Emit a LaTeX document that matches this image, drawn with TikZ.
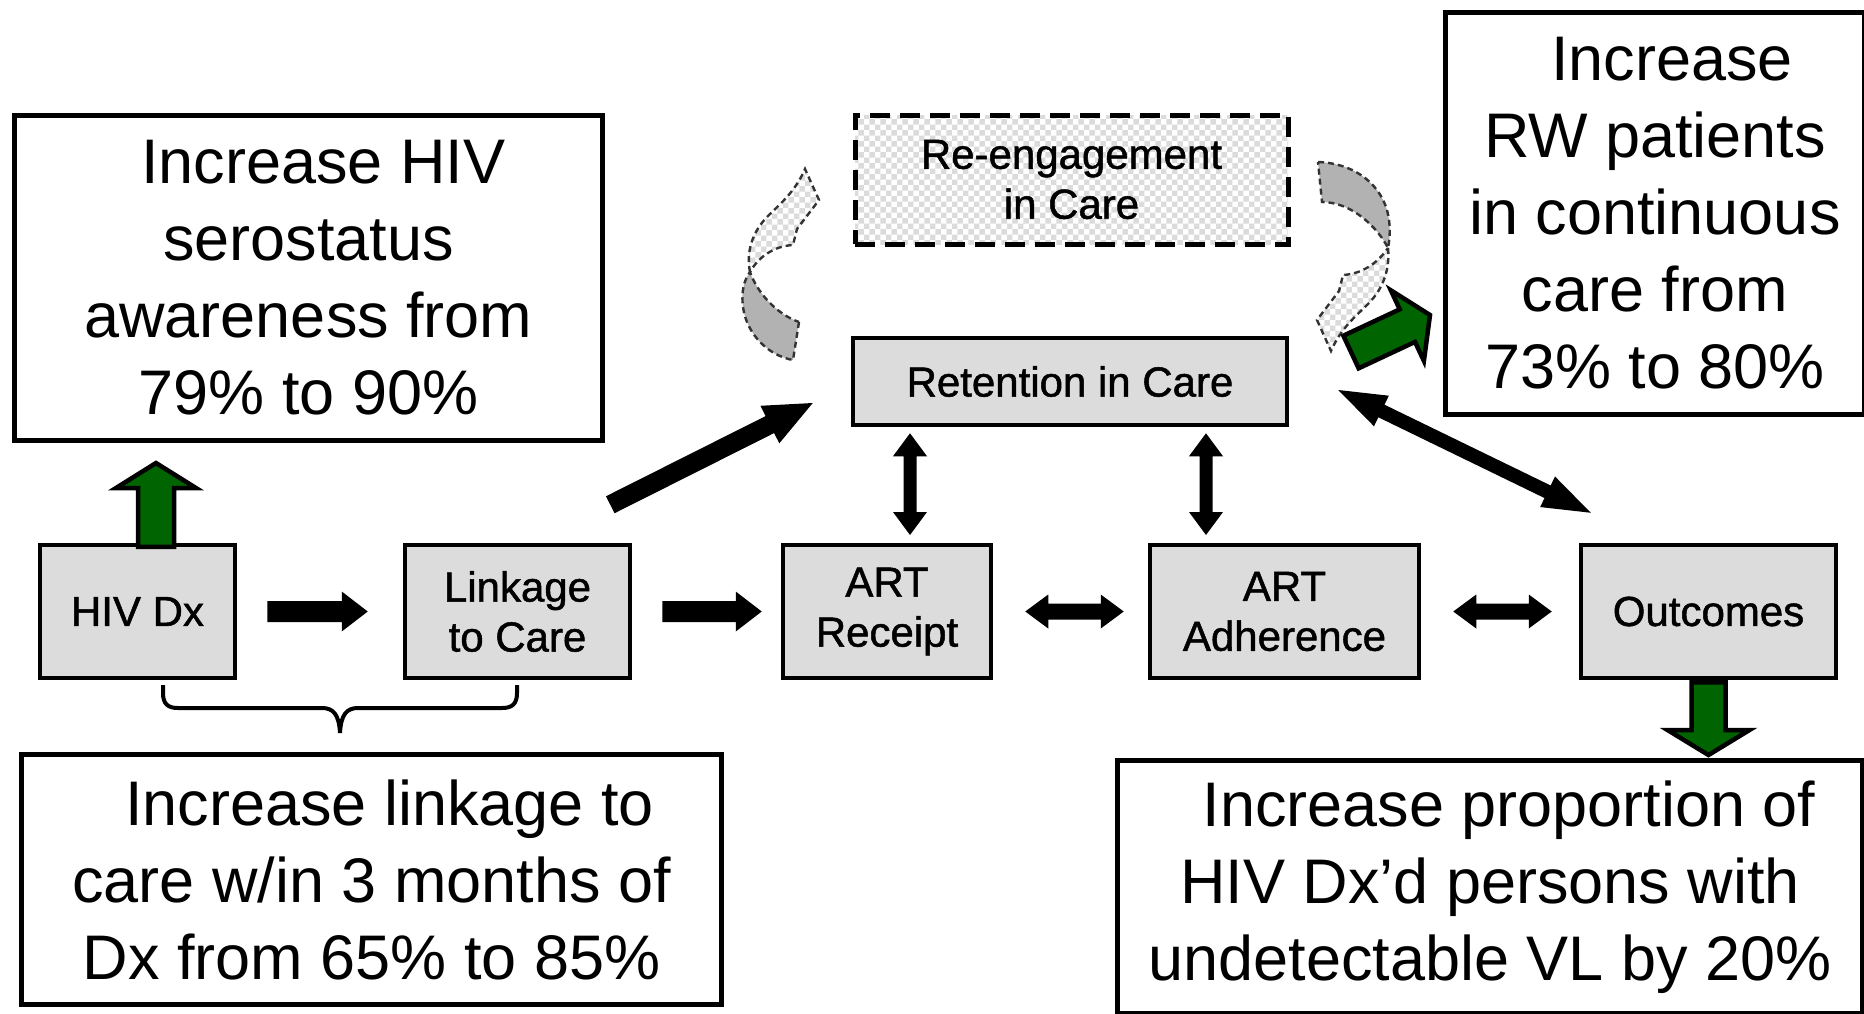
\documentclass[tikz,border=0pt]{standalone}
\usepackage{fontspec}
\setmainfont{Liberation Sans}
\newfontfamily\smallfont[FakeBold=1.2]{Liberation Sans}
\usetikzlibrary{calc,patterns}
\definecolor{boxgray}{RGB}{220,220,220}
\definecolor{dkgreen}{RGB}{0,100,0}
\definecolor{ribbon}{RGB}{178,178,178}
% single block arrow: [style]{A}{B}{shaft half width}{head half width}{head length}
\newcommand{\blkarrow}[6][]{%
  \filldraw[#1] ($(#2)!#4!90:(#3)$) -- ($(#3)!#6!(#2)!#4!90:(#3)$) -- ($(#3)!#6!(#2)!#5!90:(#3)$) -- (#3)
    -- ($(#3)!#6!(#2)!#5!-90:(#3)$) -- ($(#3)!#6!(#2)!#4!-90:(#3)$) -- ($(#2)!#4!-90:(#3)$) -- cycle;}
% double block arrow
\newcommand{\dblarrow}[6][]{%
  \filldraw[#1] (#2) -- ($(#2)!#6!(#3)!#5!90:(#3)$) -- ($(#2)!#6!(#3)!#4!90:(#3)$) -- ($(#3)!#6!(#2)!#4!90:(#3)$)
    -- ($(#3)!#6!(#2)!#5!90:(#3)$) -- (#3) -- ($(#3)!#6!(#2)!#5!-90:(#3)$) -- ($(#3)!#6!(#2)!#4!-90:(#3)$)
    -- ($(#2)!#6!(#3)!#4!-90:(#3)$) -- ($(#2)!#6!(#3)!#5!-90:(#3)$) -- cycle;}
\begin{document}
\begin{tikzpicture}[x=1pt,y=-1pt,
  gbox/.style={draw, line width=4.5pt, fill=boxgray, align=center, inner sep=0pt,
    font=\smallfont\fontsize{42}{50}\selectfont},
  tbox/.style={draw, line width=5pt, fill=white, align=center, inner sep=0pt,
    font=\fontsize{63}{77}\selectfont},
  blk/.style={fill=black, draw=none},
  grn/.style={fill=dkgreen, draw=black, line width=4.5pt, line join=miter},
  rib/.style={draw=black!80, line width=2.4pt, dash pattern=on 6pt off 4pt},
  chk/.style={pattern=checkerboard, pattern color=gray!28},
  bracestyle/.style={draw, line width=4pt}]
\useasboundingbox (0,0) rectangle (1864,1013);

% ---- flow boxes
\node[gbox, minimum width=195pt, minimum height=133pt] (hiv) at (137.5,611.5) {HIV Dx};
\node[gbox, minimum width=225pt, minimum height=133pt] (link) at (517.5,611.5) {Linkage\\to Care};
\node[gbox, minimum width=208pt, minimum height=133pt] (receipt) at (887,611.5) {ART\\Receipt};
\node[gbox, minimum width=269pt, minimum height=133pt] (adher) at (1284.5,611.5) {ART\\Adherence};
\node[gbox, minimum width=255pt, minimum height=133pt] (outc) at (1708.5,611.5) {Outcomes};
\node[gbox, minimum width=434pt, minimum height=87pt] (retention) at (1070,381.5) {Retention in Care};
\node[gbox, fill=white, chk, line width=5pt, dash pattern=on 20pt off 10pt, minimum width=433pt, minimum height=129pt]
  (reeng) at (1071.5,179.5) {Re-engagement\\in Care};

% ---- goal boxes
\node[tbox, minimum width=588pt, minimum height=325pt] (box1) at (308.5,278)
  {\hspace*{30pt}Increase HIV\\serostatus\\awareness from\\79\% to 90\%};
\node[tbox, minimum width=700pt, minimum height=250pt] (box2) at (371.5,879.5)
  {\hspace*{36pt}Increase linkage to\\care w/in 3 months of\\Dx from 65\% to 85\%};
\node[tbox, minimum width=419pt, minimum height=402pt] (box3) at (1655,213.5)
  {\hspace*{34pt}Increase\\RW patients\\in continuous\\care from\\73\% to 80\%};
\node[tbox, minimum width=745pt, minimum height=253pt] (box4) at (1490,887)
  {\hspace*{38pt}Increase proportion of\\HIV Dx’d persons with\\undetectable VL by 20\%};

% ---- connector end points
\coordinate (ha) at ([xshift=30pt]hiv.east);
\coordinate (hb) at ([xshift=-35pt]link.west);
\coordinate (la) at ([xshift=30pt]link.east);
\coordinate (lb) at ([xshift=-19pt]receipt.west);
\coordinate (ra) at ([xshift=32pt]receipt.east);
\coordinate (rb) at ([xshift=-24pt]adher.west);
\coordinate (aa) at ([xshift=32pt]adher.east);
\coordinate (ab) at ([xshift=-27pt]outc.west);
\coordinate (v1a) at ([xshift=23pt,yshift=7.75pt]receipt.north);
\path (v1a |- retention.south) ++(0,6) coordinate (v1b);
\coordinate (v2a) at ([xshift=-78.5pt,yshift=7.75pt]adher.north);
\path (v2a |- retention.south) ++(0,6) coordinate (v2b);
\coordinate (d1a) at ([xshift=-22pt,yshift=38pt]link.north east);
\coordinate (d1b) at ([xshift=-38pt,yshift=-21.5pt]retention.west);
\coordinate (d2a) at ([xshift=49pt,yshift=-8.5pt]retention.east);
\coordinate (d2b) at ([xshift=12pt,yshift=30pt]outc.north west);
\coordinate (gua) at ([xshift=18.5pt,yshift=-4pt]hiv.north);
\path (gua |- box1.south) ++(0,20) coordinate (gub);
\coordinate (gda) at ([yshift=-2pt]outc.south);
\path (gda |- box4.north) ++(0,-3) coordinate (gdb);
\coordinate (gra) at (1351,352);
\coordinate (grb) at (1430,315);

% ---- black block arrows
\blkarrow[blk]{ha}{hb}{10.5pt}{20pt}{26pt}
\blkarrow[blk]{la}{lb}{10.5pt}{20pt}{26pt}
\dblarrow[blk]{ra}{rb}{8pt}{17pt}{23pt}
\dblarrow[blk]{aa}{ab}{8pt}{17pt}{23pt}
\dblarrow[blk]{v1a}{v1b}{6.5pt}{17pt}{23pt}
\dblarrow[blk]{v2a}{v2b}{6.5pt}{17pt}{23pt}
\blkarrow[blk]{d1a}{d1b}{9.5pt}{21pt}{48pt}
\dblarrow[blk]{d2a}{d2b}{7pt}{17pt}{48pt}

% ---- brace under HIV Dx and Linkage
\path[bracestyle] (163,685) -- (163,693) .. controls (163,704) and (168,708) .. (178,708) -- (322,708)
  .. controls (333,708) and (339,714) .. (340,733) .. controls (341,714) and (347,708) .. (358,708)
  -- (502,708) .. controls (512,708) and (517,704) .. (517,693) -- (517,685);

% ---- curved re-engagement arrows (left)
\filldraw[fill=ribbon, rib] (799,322) -- (793,360) .. controls (770,356) and (747,336) .. (743,307)
  .. controls (741,292) and (744,280) .. (750,272) .. controls (757,292) and (776,314) .. (799,322) -- cycle;
\draw[chk, rib] (750,272) .. controls (746,252) and (752,232) .. (768,216)
  .. controls (780,204) and (795,192) .. (805,169) -- (819,200) -- (797,229) -- (793,245)
  .. controls (775,246) and (759,256) .. (750,272) -- cycle;
% ---- curved arrow (right)
\filldraw[fill=ribbon, rib] (1318,162) .. controls (1350,163) and (1378,180) .. (1387,210)
  .. controls (1391,225) and (1390,238) .. (1388,248) .. controls (1378,228) and (1352,202) .. (1322,202) -- cycle;
\draw[chk, rib] (1388,248) .. controls (1390,268) and (1384,288) .. (1368,304)
  .. controls (1356,316) and (1341,328) .. (1331,351) -- (1317,320) -- (1339,291) -- (1343,275)
  .. controls (1361,274) and (1377,264) .. (1388,248) -- cycle;

% ---- green goal arrows
\blkarrow[grn]{gua}{gub}{18pt}{40pt}{25pt}
\blkarrow[grn]{gda}{gdb}{17pt}{41pt}{25pt}
\blkarrow[grn]{gra}{grb}{18pt}{39pt}{25pt}
\end{tikzpicture}
\end{document}
